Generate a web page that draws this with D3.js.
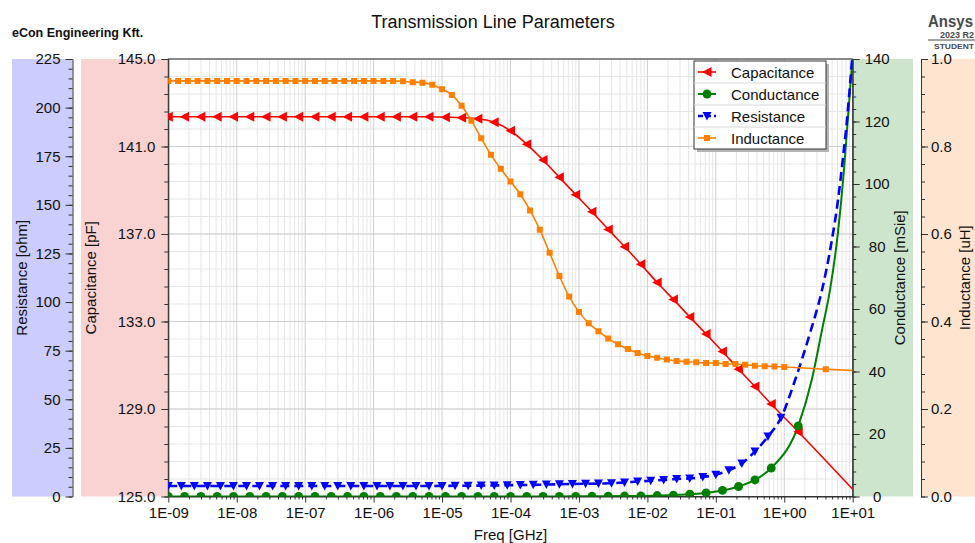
<!DOCTYPE html>
<html>
<head>
<meta charset="utf-8">
<script src="https://cdn.jsdelivr.net/npm/d3@7"></script>
<style>
  body { margin: 0; background: #fff; }
  svg { display: block; font-family: "Liberation Sans", Arial, sans-serif; }
</style>
</head>
<body>
<svg id="chart" width="975" height="543"></svg>
<script>
// ---- Data (frequency in GHz) ----
// Capacitance [pF] and Conductance [mSie] share one sweep of marked points
const rgFreq = [1.00e-9,1.73e-9,2.99e-9,5.18e-9,8.96e-9,1.55e-8,2.68e-8,4.64e-8,8.03e-8,
  1.39e-7,2.40e-7,4.16e-7,7.20e-7,1.25e-6,2.15e-6,3.73e-6,6.45e-6,1.12e-5,1.93e-5,3.34e-5,
  5.78e-5,1.00e-4,1.73e-4,2.99e-4,5.18e-4,8.96e-4,1.55e-3,2.68e-3,4.64e-3,8.03e-3,1.39e-2,
  2.40e-2,4.16e-2,7.20e-2,0.125,0.215,0.373,0.645,1.60];
const capVal = [142.36,142.36,142.36,142.36,142.36,142.36,142.36,142.36,142.36,142.36,142.36,
  142.36,142.36,142.36,142.36,142.36,142.36,142.34,142.32,142.27,142.11,141.72,141.10,140.38,
  139.59,138.80,138.02,137.21,136.42,135.62,134.78,134.01,133.21,132.43,131.63,130.82,130.03,
  129.23,127.96];
const capTailFreq = [10];
const capTailVal = [125.33];

const condVal = [0,0,0,0,0,0,0,0,0,0,0,0,0,0,0,0,0,0,0,0,0,0,0,
  0.02,0.03,0.05,0.07,0.10,0.15,0.20,0.30,0.45,0.75,1.15,1.95,3.2,5.3,9.1,22.6];
const condTailFreq = [2.52,3.56,4.66,6.10,7.46,8.69,10];
const condTailVal = [37.3,53.3,66.1,84.6,104.5,123.7,141.3];

// Resistance [ohm]
const resFreq = [1.00e-9,1.55e-9,2.40e-9,3.73e-9,5.78e-9,8.96e-9,1.39e-8,2.15e-8,3.34e-8,
  5.18e-8,8.03e-8,1.25e-7,1.93e-7,2.99e-7,4.64e-7,7.20e-7,1.12e-6,1.73e-6,2.68e-6,4.16e-6,
  6.45e-6,1.00e-5,1.55e-5,2.40e-5,3.73e-5,5.78e-5,8.96e-5,1.39e-4,2.15e-4,3.34e-4,5.18e-4,
  8.03e-4,1.25e-3,1.93e-3,2.99e-3,4.64e-3,7.20e-3,1.12e-2,1.73e-2,2.68e-2,4.16e-2,6.45e-2,
  0.100,0.155,0.240,0.373,0.578,0.896];
const resVal = [5.4,5.4,5.4,5.4,5.4,5.4,5.4,5.4,5.4,5.4,5.4,5.4,5.4,5.4,5.4,5.4,5.4,5.4,5.4,
  5.4,5.4,5.45,5.5,5.55,5.6,5.7,5.8,5.9,6.0,6.15,6.3,6.45,6.55,6.65,6.8,7.2,7.7,8.1,8.5,9.0,
  9.3,10.0,11.2,13.5,17.0,23.2,30.8,40.5];
const resTailFreq = [1.44,2.38,3.56,4.82,6.10,7.21,8.25,9.13,10];
const resTailVal = [59.9,84.1,106.2,129.3,152.5,174.1,193.6,211.6,228.6];

// Inductance [uH]
const indFreq = [
  1.00e-9,1.39e-9,1.93e-9,2.68e-9,3.73e-9,5.18e-9,7.20e-9,
  1.00e-8,1.39e-8,1.93e-8,2.68e-8,3.73e-8,5.18e-8,7.20e-8,
  1.00e-7,1.39e-7,1.93e-7,2.68e-7,3.73e-7,5.18e-7,7.20e-7,
  1.00e-6,1.39e-6,1.93e-6,2.68e-6,3.73e-6,5.18e-6,7.20e-6,
  1.00e-5,1.39e-5,1.93e-5,2.68e-5,3.73e-5,5.18e-5,7.20e-5,
  1.00e-4,1.39e-4,1.93e-4,2.68e-4,3.73e-4,5.18e-4,7.20e-4,
  1.00e-3,1.39e-3,1.93e-3,2.68e-3,3.73e-3,5.18e-3,7.20e-3,
  1.00e-2,1.39e-2,1.93e-2,2.68e-2,3.73e-2,5.18e-2,7.20e-2,
  0.100,0.139,0.193,0.268,0.373,0.518,0.720,
  1.00,4.04];
const indVal = [
  0.950,0.950,0.950,0.950,0.950,0.950,0.950,
  0.950,0.950,0.950,0.950,0.950,0.950,0.950,
  0.950,0.950,0.950,0.950,0.950,0.950,0.950,
  0.950,0.950,0.950,0.949,0.947,0.946,0.941,
  0.931,0.918,0.893,0.859,0.819,0.781,0.749,
  0.720,0.691,0.654,0.610,0.557,0.504,0.457,
  0.422,0.396,0.378,0.361,0.348,0.337,0.328,
  0.321,0.317,0.313,0.310,0.308,0.307,0.305,
  0.305,0.303,0.303,0.301,0.299,0.298,0.297,
  0.296,0.291];
const indTailFreq = [10];
const indTailVal = [0.288];

// Axis ticks and labels
const freqTicks = [1e-9,1e-8,1e-7,1e-6,1e-5,1e-4,1e-3,1e-2,1e-1,1,10];
const freqTickLabels = ["1E-09","1E-08","1E-07","1E-06","1E-05","1E-04","1E-03","1E-02","1E-01","1E+00","1E+01"];
const capTicks = [125,129,133,137,141,145];
const resTicks = [0,25,50,75,100,125,150,175,200,225];
const condTicks = [0,20,40,60,80,100,120,140];
const indTicks = [0,0.2,0.4,0.6,0.8,1.0];
const legendNames = ["Capacitance","Conductance","Resistance","Inductance"];

// ---- Layout ----
const svg = d3.select("#chart");
const P = { left: 168.3, right: 852.7, top: 59, bottom: 496.5 };
const FONT = '"Liberation Sans", Arial, sans-serif';

const x = d3.scaleLog().domain([1e-9, 10]).range([P.left, P.right]);
const yCap = d3.scaleLinear().domain([125, 145]).range([P.bottom, P.top]);
const yRes = d3.scaleLinear().domain([0, 225]).range([P.bottom, P.top]);
const yCond = d3.scaleLinear().domain([0, 140]).range([P.bottom, P.top]);
const yInd = d3.scaleLinear().domain([0, 1]).range([P.bottom, P.top]);

// Coloured axis bands
const bands = [
  { x0: 12, x1: 72.5, fill: "#ccccff" },
  { x0: 81, x1: P.left, fill: "#f9d2d2" },
  { x0: P.right + 0.5, x1: 913, fill: "#cce5cc" },
  { x0: 921, x1: 975, fill: "#ffe4cf" }
];
svg.selectAll("rect.band").data(bands).join("rect")
  .attr("class", "band")
  .attr("x", d => d.x0).attr("y", P.top)
  .attr("width", d => d.x1 - d.x0).attr("height", P.bottom - P.top)
  .attr("fill", d => d.fill);

// Plot background
svg.append("rect").attr("x", P.left).attr("y", P.top)
  .attr("width", P.right - P.left).attr("height", P.bottom - P.top).attr("fill", "#fff");

// Grid
const grid = svg.append("g");
const xMinor = x.ticks(20).filter(v => !freqTicks.some(t => Math.abs(t - v) / t < 1e-6));
grid.selectAll("line.vmin").data(xMinor).join("line")
  .attr("x1", d => x(d)).attr("x2", d => x(d)).attr("y1", P.top).attr("y2", P.bottom)
  .attr("stroke", "#e6e6e6").attr("stroke-width", 1);
const capMinor = d3.range(0, 26).map(i => 125 + i * 0.8).filter(v => v < 145.01);
grid.selectAll("line.hmin").data(capMinor).join("line")
  .attr("x1", P.left).attr("x2", P.right).attr("y1", d => yCap(d)).attr("y2", d => yCap(d))
  .attr("stroke", "#e6e6e6").attr("stroke-width", 1);
grid.selectAll("line.vmaj").data(freqTicks).join("line")
  .attr("x1", d => x(d)).attr("x2", d => x(d)).attr("y1", P.top).attr("y2", P.bottom)
  .attr("stroke", "#cfcfcf").attr("stroke-width", 1);
grid.selectAll("line.hmaj").data(capTicks).join("line")
  .attr("x1", P.left).attr("x2", P.right).attr("y1", d => yCap(d)).attr("y2", d => yCap(d))
  .attr("stroke", "#cfcfcf").attr("stroke-width", 1);

// ---- Axes ----
function styleAxis(g, size) {
  g.attr("font-family", FONT).attr("font-size", size || 15);
  g.selectAll("path.domain").attr("stroke", "#333");
  g.selectAll(".tick line").attr("stroke", "#333");
  g.selectAll(".tick text").attr("fill", "#111");
  return g;
}
function minorAxis(axis, transform) {
  const g = svg.append("g").attr("transform", transform).call(axis);
  g.select("path.domain").remove();
  g.selectAll(".tick line").attr("stroke", "#333");
  g.selectAll(".tick text").remove();
}

// Resistance (far left)
styleAxis(svg.append("g").attr("transform", "translate(72.5,0)")
  .call(d3.axisLeft(yRes).tickValues(resTicks).tickSize(7).tickPadding(5).tickSizeOuter(0)));
minorAxis(d3.axisLeft(yRes).tickValues(d3.range(0, 226, 5)).tickSize(4), "translate(72.5,0)");

// Capacitance (left of plot)
styleAxis(svg.append("g").attr("transform", `translate(${P.left},0)`)
  .call(d3.axisLeft(yCap).tickValues(capTicks).tickSize(7).tickPadding(6).tickSizeOuter(0)
    .tickFormat(d3.format(".1f"))));
minorAxis(d3.axisLeft(yCap).tickValues(capMinor).tickSize(4), `translate(${P.left},0)`);

// Conductance (right of plot)
const gCond = styleAxis(svg.append("g").attr("transform", `translate(${P.right},0)`)
  .call(d3.axisRight(yCond).tickValues(condTicks).tickSize(7).tickSizeOuter(0)));
gCond.selectAll(".tick text").attr("x", 24.5).attr("text-anchor", "middle");
minorAxis(d3.axisRight(yCond).tickValues(d3.range(0, 141, 4)).tickSize(3.5), `translate(${P.right},0)`);

// Inductance (far right)
styleAxis(svg.append("g").attr("transform", "translate(921,0)")
  .call(d3.axisRight(yInd).tickValues(indTicks).tickSize(7).tickPadding(3).tickSizeOuter(0)
    .tickFormat(d3.format(".1f"))));
minorAxis(d3.axisRight(yInd).tickValues(d3.range(0, 26).map(i => i * 0.04)).tickSize(4), "translate(921,0)");

// Frequency axis
const gx = styleAxis(svg.append("g").attr("transform", `translate(0,${P.bottom})`)
  .call(d3.axisBottom(x).tickValues(freqTicks).tickSize(6).tickPadding(5).tickSizeOuter(0)
    .tickFormat((d, i) => freqTickLabels[i])));
minorAxis(d3.axisBottom(x).tickValues(xMinor).tickSize(3), `translate(0,${P.bottom})`);

// Plot frame
svg.append("rect").attr("x", P.left).attr("y", P.top)
  .attr("width", P.right - P.left).attr("height", P.bottom - P.top)
  .attr("fill", "none").attr("stroke", "#333").attr("stroke-width", 1);

// ---- Series ----
svg.append("clipPath").attr("id", "plotClip").append("rect")
  .attr("x", P.left).attr("y", P.top).attr("width", P.right - P.left).attr("height", P.bottom - P.top);
const layer = svg.append("g").attr("clip-path", "url(#plotClip)");

const zip = (fs, vs) => fs.map((f, i) => ({ f, v: vs[i] }));
const series = [
  { name: "Capacitance", color: "#ff0000", y: yCap, width: 1.6, dash: null, marker: "left",
    pts: zip(rgFreq, capVal), tail: zip(capTailFreq, capTailVal) },
  { name: "Conductance", color: "#008000", y: yCond, width: 2, dash: null, marker: "circle",
    pts: zip(rgFreq, condVal), tail: zip(condTailFreq, condTailVal) },
  { name: "Resistance", color: "#0000ff", y: yRes, width: 2.6, dash: "9,5", marker: "down",
    pts: zip(resFreq, resVal), tail: zip(resTailFreq, resTailVal) },
  { name: "Inductance", color: "#ff8000", y: yInd, width: 1.6, dash: null, marker: "square",
    pts: zip(indFreq, indVal), tail: zip(indTailFreq, indTailVal) }
];

const markerPath = {
  left: "M-5,0L4.5,-5L4.5,5Z",
  down: "M-4.5,-4L4.5,-4L0,4.5Z",
  square: "M-3,-3H3V3H-3Z",
  circle: d3.symbol(d3.symbolCircle, 62)()
};

series.forEach(s => {
  const line = d3.line().x(d => x(d.f)).y(d => s.y(d.v)).curve(d3.curveMonotoneX);
  layer.append("path").datum(s.pts.concat(s.tail))
    .attr("d", line).attr("fill", "none").attr("stroke", s.color)
    .attr("stroke-width", s.width).attr("stroke-dasharray", s.dash)
    .attr("stroke-linejoin", "round");
});
series.forEach(s => {
  layer.append("g").selectAll("path").data(s.pts).join("path")
    .attr("transform", d => `translate(${x(d.f)},${s.y(d.v)})`)
    .attr("d", markerPath[s.marker]).attr("fill", s.color);
});

// ---- Legend ----
const lg = svg.append("g").attr("transform", "translate(694,61)");
lg.append("rect").attr("x", 3).attr("y", 3).attr("width", 132).attr("height", 88).attr("fill", "#b4b4b4");
lg.append("rect").attr("width", 132).attr("height", 88).attr("fill", "#fff")
  .attr("stroke", "#333").attr("stroke-width", 1);
lg.selectAll("line.sep").data([1, 2, 3]).join("line")
  .attr("x1", 0).attr("x2", 132).attr("y1", d => d * 22).attr("y2", d => d * 22)
  .attr("stroke", "#d8d8d8");
legendNames.forEach((name, i) => {
  const s = series.find(t => t.name === name);
  const cy = 11 + i * 22;
  lg.append("line").attr("x1", 4).attr("x2", 22).attr("y1", cy).attr("y2", cy)
    .attr("stroke", s.color).attr("stroke-width", s.width)
    .attr("stroke-dasharray", s.dash ? "5,3" : null);
  lg.append("path").attr("transform", `translate(13,${cy})`)
    .attr("d", markerPath[s.marker]).attr("fill", s.color);
  lg.append("text").attr("x", 37).attr("y", cy + 5.5).text(name)
    .attr("font-family", FONT).attr("font-size", 15).attr("fill", "#111");
});

// ---- Titles ----
svg.append("text").attr("x", 493).attr("y", 28).attr("text-anchor", "middle")
  .attr("font-family", FONT).attr("font-size", 18).attr("fill", "#111")
  .text("Transmission Line Parameters");
svg.append("text").attr("x", 12).attr("y", 36.5)
  .attr("font-family", FONT).attr("font-size", 12.5).attr("font-weight", "bold").attr("fill", "#111")
  .text("eCon Engineering Kft.");
svg.append("text").attr("x", (P.left + P.right) / 2).attr("y", 540).attr("text-anchor", "middle")
  .attr("font-family", FONT).attr("font-size", 15).attr("fill", "#111")
  .text("Freq [GHz]");

const axisTitles = [
  { x: 22, text: "Resistance [ohm]" },
  { x: 91, text: "Capacitance [pF]" },
  { x: 900, text: "Conductance [mSie]" },
  { x: 965, text: "Inductance [uH]" }
];
axisTitles.forEach(t => {
  svg.append("text")
    .attr("transform", `translate(${t.x},${(P.top + P.bottom) / 2}) rotate(-90)`)
    .attr("dy", "0.35em").attr("text-anchor", "middle")
    .attr("font-family", FONT).attr("font-size", 15).attr("fill", "#111")
    .text(t.text);
});

// Product badge
const badge = svg.append("g").attr("font-family", FONT).attr("font-weight", "bold").attr("fill", "#4a4a4a");
badge.append("text").attr("x", 928).attr("y", 27).attr("font-size", 17)
  .attr("textLength", 45).attr("lengthAdjust", "spacingAndGlyphs").text("Ansys");
badge.append("text").attr("x", 940).attr("y", 37.5).attr("font-size", 8.5)
  .attr("textLength", 34).attr("lengthAdjust", "spacingAndGlyphs").text("2023 R2");
badge.append("line").attr("x1", 928).attr("x2", 975).attr("y1", 40).attr("y2", 40)
  .attr("stroke", "#4a4a4a").attr("stroke-width", 1);
badge.append("text").attr("x", 934).attr("y", 48.5).attr("font-size", 8)
  .attr("textLength", 40).attr("lengthAdjust", "spacingAndGlyphs").text("STUDENT");
</script>
</body>
</html>
